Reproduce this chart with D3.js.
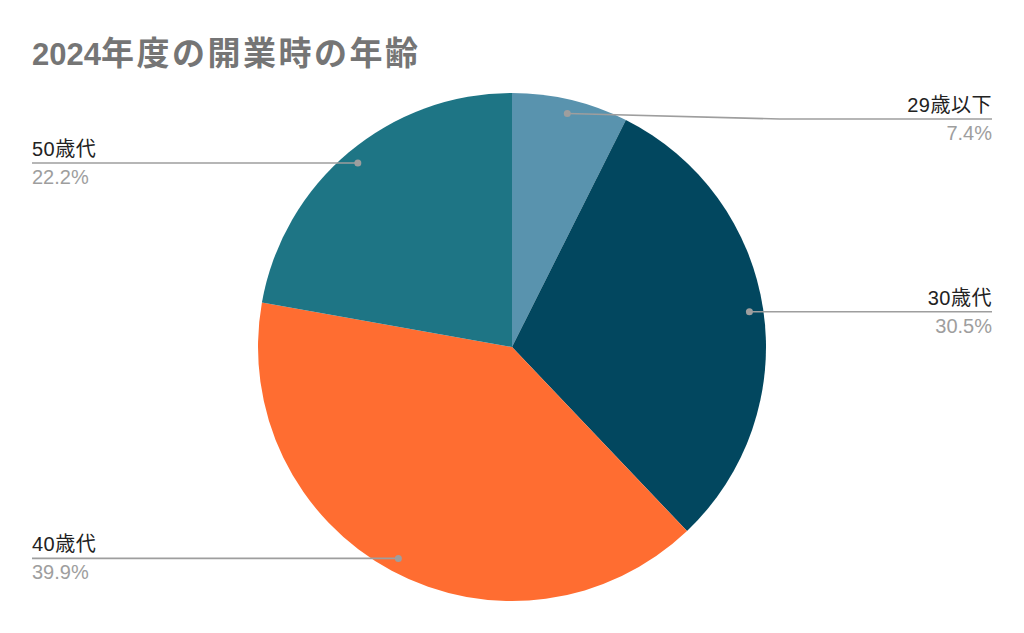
<!DOCTYPE html>
<html>
<head>
<meta charset="utf-8">
<script src="https://cdn.jsdelivr.net/npm/d3@7"></script>
<style>
  body { margin: 0; background: #fff; }
  svg { display: block; }
</style>
</head>
<body>
<div id="chart"></div>
<script>
const titleYear = "2024";
const titleRest = "年度の開業時の年齢";
const categories = ["29歳以下", "30歳代", "40歳代", "50歳代"];
const shares = [7.4, 30.5, 39.9, 22.2];
const colors = ["#5993ae", "#02475f", "#ff6d31", "#1e7585"];

const width = 1024, height = 633;
const cx = 512, cy = 347, radius = 254;
const fontFam = "Arial, 'Liberation Sans', 'Noto Sans CJK JP', sans-serif";

const svg = d3.select("#chart").append("svg")
  .attr("width", width)
  .attr("height", height);

// title (CJK glyphs come out a bit bigger in the source)
const t = svg.append("text")
  .attr("x", 32)
  .attr("y", 65)
  .style("fill", "#757575")
  .style("font-family", fontFam)
  .style("font-size", "31px")
  .style("font-weight", 700);
t.append("tspan").text(titleYear);
t.append("tspan").text(titleRest)
  .style("font-size", "33px")
  .style("letter-spacing", "2.5px");

const data = categories.map((c, i) => ({ cat: c, value: shares[i], color: colors[i] }));

const pie = d3.pie().sort(null).value(d => d.value);
const arc = d3.arc().innerRadius(0).outerRadius(radius);
const arcs = pie(data);

const g = svg.append("g").attr("transform", `translate(${cx},${cy})`);

g.selectAll("path")
  .data(arcs)
  .enter()
  .append("path")
  .attr("d", arc)
  .attr("fill", d => d.data.color);

// leader lines + labels
const dotR = radius * 0.945;
const labelLeft = 32, labelRight = 992;

arcs.forEach(a => {
  const mid = (a.startAngle + a.endAngle) / 2;
  const dx = cx + dotR * Math.sin(mid);
  const dy = cy - dotR * Math.cos(mid);
  const right = dx > cx;
  const lineY = Math.max(dy, 119);
  const endX = right ? labelRight : labelLeft;
  const elbowX = lineY === dy ? dx : (dx + endX) / 2;

  svg.append("path")
    .attr("d", `M${dx},${dy} L${elbowX},${lineY} L${endX},${lineY}`)
    .attr("fill", "none")
    .attr("stroke", "#9e9e9e")
    .attr("stroke-width", 1.6);

  svg.append("circle")
    .attr("cx", dx)
    .attr("cy", dy)
    .attr("r", 3.5)
    .attr("fill", "#9e9e9e");

  svg.append("text")
    .attr("x", endX)
    .attr("y", lineY - 7)
    .attr("text-anchor", right ? "end" : "start")
    .text(a.data.cat)
    .style("fill", "#222")
    .style("font-family", fontFam)
    .style("font-size", "20px")
    .style("letter-spacing", "0.5px");

  svg.append("text")
    .attr("x", endX)
    .attr("y", lineY + 21)
    .attr("text-anchor", right ? "end" : "start")
    .text(a.data.value.toFixed(1) + "%")
    .style("fill", "#9e9e9e")
    .style("font-family", fontFam)
    .style("font-size", "20px");
});
</script>
</body>
</html>
